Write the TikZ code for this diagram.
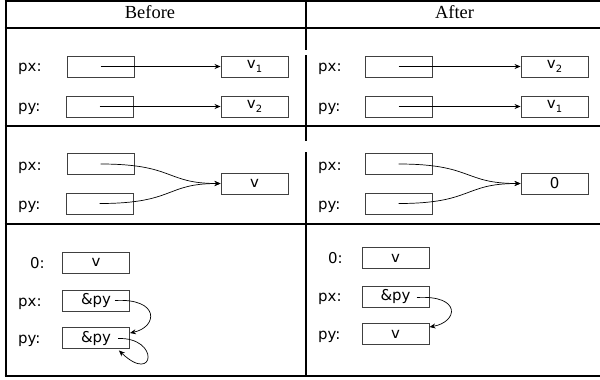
\documentclass[tikz,border=0pt]{standalone}
\usepackage{fontspec}
\setmainfont{Liberation Serif}
\newfontfamily\labfont{DejaVu Sans}
\usetikzlibrary{arrows.meta,calc}
% small lowered index after a value name
\newcommand\vsub[1]{\raisebox{-4bp}{\fontsize{10}{10}\selectfont #1}}
\begin{document}
\begin{tikzpicture}[x=1bp,y=-1bp,
  rule/.style={line width=2bp},
  head/.style={font=\fontsize{18.5}{20}\selectfont, anchor=base, inner sep=0},
  lbl/.style={font=\labfont\fontsize{15}{16}\selectfont, anchor=base west, inner sep=0},
  cell/.style={draw=black!75, line width=0.9bp, minimum width=67bp, minimum height=21bp,
               inner sep=0, font=\labfont\fontsize{15}{16}\selectfont},
  ptr/.style={draw=black, line width=0.7bp, -{Stealth[length=6bp,width=5bp]}},
]
\useasboundingbox (0,0) rectangle (600,379);

% table rules
\draw[rule] (4.5,1) -- (600,1);
\draw[rule] (4.5,28) -- (600,28);
\draw[rule] (4.5,126) -- (600,126);
\draw[rule] (4.5,224) -- (600,224);
\draw[rule] (4.5,376) -- (600,376);
\draw[rule] (5.5,0) -- (5.5,377);
\draw[rule] (305.5,0) -- (305.5,50) (305.5,55) -- (305.5,141) (305.5,152) -- (305.5,377);

% headers
\node[head] (hbefore) at (150,18.3) {Before};
\node[head] (hafter) at (454.5,18.3) {After};

% ---- row 1: two pointers to two values ----
\node[lbl] (bpxl1) at (18,71.5) {px:};
\node[lbl] (bpyl1) at (18,111.5) {py:};
\node[cell] (bpx1) at (100.5,66.5) {};
\node[cell] (bpy1) at (99.5,106.5) {};
\node[cell] (bv1) at (254.5,66.5) {v\vsub{1}};
\node[cell] (bv2) at (254.5,106.5) {v\vsub{2}};
\draw[ptr] (bpx1.center) -- (bv1.west);
\draw[ptr] (bpy1.center) -- (bv2.west);

\node[lbl] (apxl1) at (318,71.5) {px:};
\node[lbl] (apyl1) at (318,111.5) {py:};
\node[cell] (apx1) at (398.5,66.5) {};
\node[cell] (apy1) at (398.5,106.5) {};
\node[cell] (av2) at (554.5,66.5) {v\vsub{2}};
\node[cell] (av1) at (554.5,106.5) {v\vsub{1}};
\draw[ptr] (apx1.center) -- (av2.west);
\draw[ptr] (apy1.center) -- (av1.west);

% ---- row 2: two pointers to one value ----
\node[lbl] (bpxl2) at (18,170) {px:};
\node[lbl] (bpyl2) at (18,209.5) {py:};
\node[cell] (bpx2) at (100.5,164) {};
\node[cell] (bpy2) at (99.5,203.5) {};
\node[cell] (bv) at (254.5,183.5) {v};
\draw[ptr] (bpx2.center) .. controls (175,164) and (165,183.5) .. (bv.west);
\draw[ptr] (bpy2.center) .. controls (175,203.5) and (165,183.5) .. (bv.west);

\node[lbl] (apxl2) at (318,170) {px:};
\node[lbl] (apyl2) at (318,209.5) {py:};
\node[cell] (apx2) at (398.5,164) {};
\node[cell] (apy2) at (398.5,203.5) {};
\node[cell] (azero) at (554.5,183.5) {0};
\draw[ptr] (apx2.center) .. controls (473,164) and (463,183.5) .. (azero.west);
\draw[ptr] (apy2.center) .. controls (473,203.5) and (463,183.5) .. (azero.west);

% ---- row 3: pointer to pointer ----
\node[lbl] (bzl3) at (30,268) {0:};
\node[lbl] (bpxl3) at (18,306) {px:};
\node[lbl] (bpyl3) at (18,343) {py:};
\node[cell] (bz3) at (96,262.5) {v};
\node[cell] (bpx3) at (96,300.5) {\&py};
\node[cell] (bpy3) at (96,338) {\&py};
\coordinate (bs1) at (115,300.5);
\coordinate (bs2) at (118,338.5);
\draw[ptr] (bs1) .. controls (160,298) and (158,327) .. ($(bpy3.east)+(0,-5)$);
\draw[ptr] (bs2) .. controls (160,337) and (155,385) .. ($(bpy3.south east)+(-11,1.5)$);

\node[lbl] (azl3) at (328,263) {0:};
\node[lbl] (apxl3) at (318,301.5) {px:};
\node[lbl] (apyl3) at (318,339) {py:};
\node[cell] (az3) at (395.5,258) {v};
\node[cell] (apx3) at (395.5,296.5) {\&py};
\node[cell] (apy3) at (395.5,334) {v};
\coordinate (as1) at (417,297.5);
\draw[ptr] (as1) .. controls (462,295) and (458,322) .. ($(apy3.east)+(0,-7)$);
\end{tikzpicture}
\end{document}
